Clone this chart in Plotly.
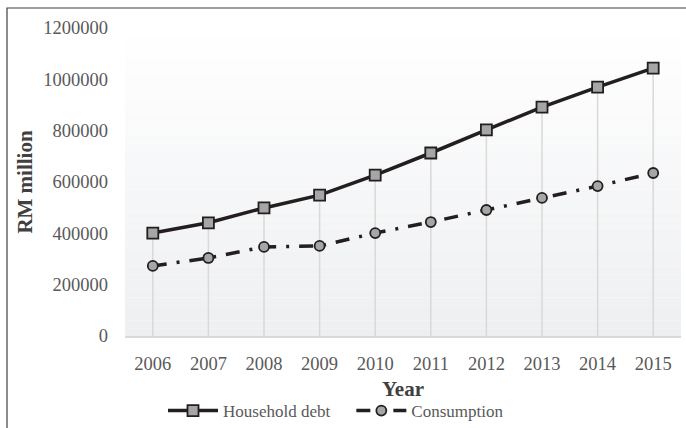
import plotly.graph_objects as go

years = ["2006", "2007", "2008", "2009", "2010", "2011", "2012", "2013", "2014", "2015"]
household_debt = [401000, 441000, 499000, 549000, 627000, 713000, 803000, 892000, 970000, 1044000]
consumption = [273000, 304000, 347000, 351000, 401000, 444000, 491000, 538000, 584000, 635000]
y_ticks = [0, 200000, 400000, 600000, 800000, 1000000, 1200000]

W, H = 686, 428
ML, MR, MT, MB = 125, 5, 28, 92
PW, PH = W - ML - MR, H - MT - MB

fig = go.Figure()

# drop lines from the top series to the axis
dx, dy = [], []
for yr, a, b in zip(years, household_debt, consumption):
    dx += [yr, yr, None]
    dy += [0, max(a, b), None]
fig.add_trace(go.Scatter(x=dx, y=dy, mode="lines", line=dict(color="#d9d9d9", width=1.5),
                         showlegend=False, hoverinfo="skip"))

fig.add_trace(go.Scatter(
    x=years, y=household_debt, name="Household debt\u00a0\u00a0\u00a0\u2009", mode="lines+markers",
    line=dict(color="#231f20", width=3.5),
    marker=dict(symbol="square", size=11, color="#a6a6a6", line=dict(color="#231f20", width=1.8)),
))
fig.add_trace(go.Scatter(
    x=years, y=consumption, name="Consumption", mode="lines+markers",
    line=dict(color="#231f20", width=3.5, dash="14px,10px,3px,10px"),
    marker=dict(symbol="circle", size=10, color="#a6a6a6", line=dict(color="#231f20", width=1.8)),
))

# subtle vertical gradient background of plot area
shapes = []
n = 40
top = (255, 255, 255)
bot = (238, 239, 241)
for i in range(n):
    t = (i + 0.5) / n
    c = tuple(round(top[k] + (bot[k] - top[k]) * (1 - t)) for k in range(3))
    shapes.append(dict(type="rect", xref="paper", yref="paper", x0=0, x1=1,
                       y0=i / n, y1=(i + 1) / n, fillcolor="rgb(%d,%d,%d)" % c,
                       line=dict(width=0), layer="below"))
# outer frame (left and top visible)
shapes.append(dict(type="rect", xref="paper", yref="paper",
                   x0=(7 - ML) / PW, x1=(W + 60 - ML) / PW,
                   y0=(H - MB - (H + 60)) / PH, y1=(H - MB - 8) / PH,
                   line=dict(color="#404040", width=1.2), fillcolor="rgba(0,0,0,0)", layer="above"))

font = "Liberation Serif, Times New Roman, serif"

fig.update_layout(
    width=W, height=H,
    margin=dict(l=ML, r=MR, t=MT, b=MB, autoexpand=False),
    paper_bgcolor="white", plot_bgcolor="rgba(0,0,0,0)",
    font=dict(family=font, color="#595959", size=18),
    shapes=shapes,
    xaxis=dict(type="category", range=[-0.5, 9.5], showgrid=False, zeroline=False,
               showline=True, linecolor="#d9d9d9", linewidth=1.5,
               ticks="", ticklabelstandoff=10,
               tickfont=dict(family=font, size=18.5, color="#595959")),
    yaxis=dict(range=[0, 1200000], tickvals=y_ticks, ticktext=[str(v) for v in y_ticks],
               showgrid=False, zeroline=False, showline=False, ticks="",
               ticklabelstandoff=16,
               tickfont=dict(family=font, size=18.5, color="#595959"),
               title=dict(text="<b>RM million</b>", font=dict(family=font, size=21, color="#404040"), standoff=4)),
    annotations=[dict(text="<b>Year</b>", xref="paper", yref="paper", x=0.5, y=-(389 - (H - MB)) / PH,
                      xanchor="center", yanchor="middle", showarrow=False,
                      font=dict(family=font, size=21, color="#404040"))],
    legend=dict(orientation="h", x=(163 - ML) / PW, xanchor="left",
                yref="container", y=(H - 411) / H, yanchor="middle",
                font=dict(family=font, size=17, color="#595959"),
                bgcolor="rgba(0,0,0,0)", itemwidth=50, tracegroupgap=0),
    showlegend=True,
)

fig.write_html("out.html")
